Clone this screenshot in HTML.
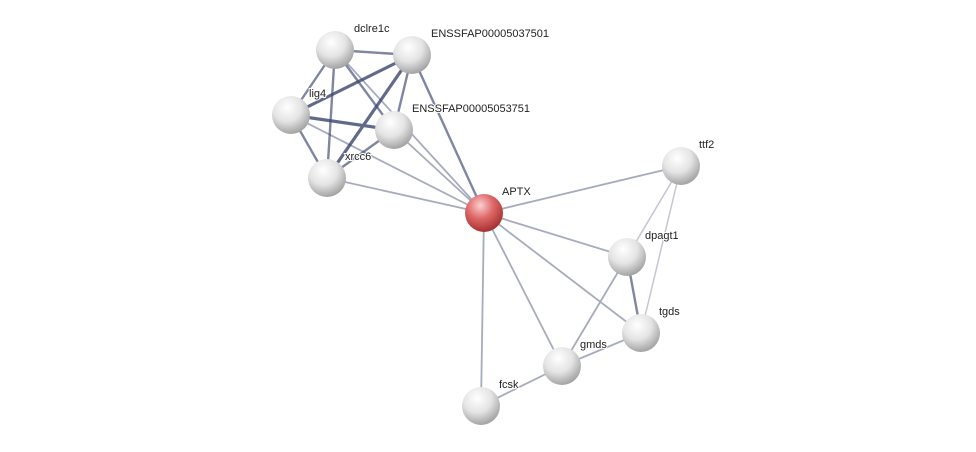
<!DOCTYPE html>
<html><head><meta charset="utf-8"><style>
html,body{margin:0;padding:0;background:#fff;}
svg{display:block;}
text{font-family:"Liberation Sans",sans-serif;font-size:11px;fill:#222;paint-order:stroke;stroke:#fff;stroke-width:2px;}
</style></head><body>
<svg width="976" height="452" viewBox="0 0 976 452">
<defs>
<radialGradient id="g" cx="40%" cy="30%" r="75%">
<stop offset="0" stop-color="#ffffff"/><stop offset="0.5" stop-color="#e4e4e4"/><stop offset="1" stop-color="#9a9a9a"/>
</radialGradient>
<radialGradient id="r" cx="40%" cy="30%" r="75%">
<stop offset="0" stop-color="#fbd0d0"/><stop offset="0.45" stop-color="#e06a6a"/><stop offset="1" stop-color="#a02a2a"/>
</radialGradient>
</defs>
<g stroke-linecap="round" fill="none">
<g stroke="#3c4670" stroke-width="3.2" opacity="0.8">
<line x1="291" y1="115" x2="412" y2="55"/>
<line x1="291" y1="115" x2="394" y2="130"/>
<line x1="412" y1="55" x2="327" y2="178"/>
</g>
<g stroke="#3c4670" stroke-width="2.4" opacity="0.65">
<line x1="335" y1="50" x2="412" y2="55"/>
<line x1="335" y1="50" x2="291" y2="115"/>
<line x1="335" y1="50" x2="327" y2="178"/>
<line x1="335" y1="50" x2="394" y2="130"/>
<line x1="412" y1="55" x2="394" y2="130"/>
<line x1="291" y1="115" x2="327" y2="178"/>
<line x1="394" y1="130" x2="327" y2="178"/>
<line x1="412" y1="55" x2="484" y2="213"/>
<line x1="627" y1="257" x2="641" y2="333"/>
</g>
<g stroke="#3c4670" stroke-width="1.8" opacity="0.45">
<line x1="335" y1="50" x2="484" y2="213"/>
<line x1="291" y1="115" x2="484" y2="213"/>
<line x1="394" y1="130" x2="484" y2="213"/>
<line x1="327" y1="178" x2="484" y2="213"/>
<line x1="484" y1="213" x2="681" y2="166"/>
<line x1="484" y1="213" x2="627" y2="257"/>
<line x1="484" y1="213" x2="641" y2="333"/>
<line x1="484" y1="213" x2="562" y2="366"/>
<line x1="484" y1="213" x2="481" y2="406"/>
<line x1="627" y1="257" x2="562" y2="366"/>
<line x1="641" y1="333" x2="562" y2="366"/>
<line x1="562" y1="366" x2="481" y2="406"/>
</g>
<g stroke="#c4c6d2" stroke-width="1.5">
<line x1="681" y1="166" x2="627" y2="257"/>
<line x1="681" y1="166" x2="641" y2="333"/>
</g>
</g>
<g>
<circle cx="335" cy="50" r="19" fill="url(#g)"/>
<circle cx="412" cy="55" r="19" fill="url(#g)"/>
<circle cx="291" cy="115" r="19" fill="url(#g)"/>
<circle cx="394" cy="130" r="19" fill="url(#g)"/>
<circle cx="327" cy="178" r="19" fill="url(#g)"/>
<circle cx="484" cy="213" r="19" fill="url(#r)"/>
<circle cx="681" cy="166" r="19" fill="url(#g)"/>
<circle cx="627" cy="257" r="19" fill="url(#g)"/>
<circle cx="641" cy="333" r="19" fill="url(#g)"/>
<circle cx="562" cy="366" r="19" fill="url(#g)"/>
<circle cx="481" cy="406" r="19" fill="url(#g)"/>
</g>
<g>
<text x="354" y="32">dclre1c</text>
<text x="431" y="37">ENSSFAP00005037501</text>
<text x="309" y="97">lig4</text>
<text x="412" y="112">ENSSFAP00005053751</text>
<text x="345" y="160">xrcc6</text>
<text x="502" y="195">APTX</text>
<text x="699" y="148">ttf2</text>
<text x="645" y="239">dpagt1</text>
<text x="659" y="315">tgds</text>
<text x="580" y="348">gmds</text>
<text x="499" y="388">fcsk</text>
</g>
</svg>
</body></html>
